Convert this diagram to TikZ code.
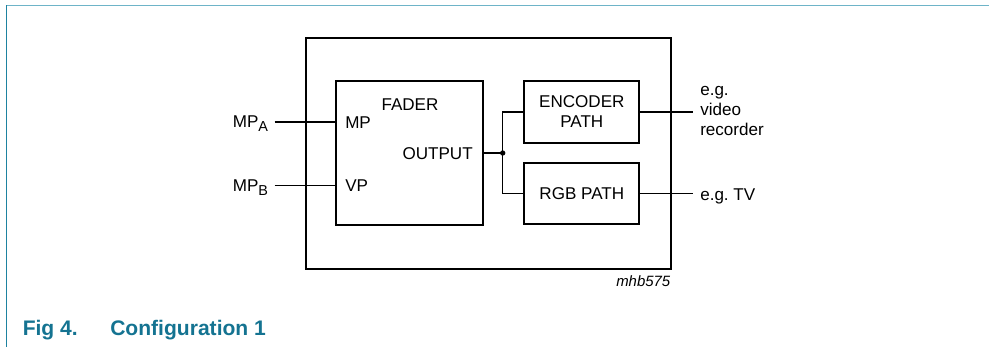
\documentclass[tikz,border=0pt]{standalone}
\usepackage{fontspec}
\setmainfont{Liberation Sans}
\frenchspacing
\definecolor{captionteal}{RGB}{20,115,145}
\definecolor{frameteal}{RGB}{110,180,200}
\definecolor{edgeteal}{RGB}{30,130,160}
\newcommand{\sublbl}[1]{\raisebox{-0.2em}{\fontsize{10.8}{12}\selectfont #1}}

\begin{document}
\begin{tikzpicture}[x=0.75pt, y=-0.75pt,
		block/.style={draw, line width=1.5pt, inner sep=0pt},
		wire/.style={line width=0.8pt},
		lbl/.style={inner sep=0pt, font=\fontsize{12.8}{15}\selectfont},
		capt/.style={inner sep=0pt, anchor=base west, text=captionteal, font=\fontsize{15.8}{18}\bfseries\selectfont}]
			\useasboundingbox (0,0) rectangle (989,347);
			\draw[frameteal, line width=1.1pt] (6.3,5.5) -- (989,5.5);
			\draw[edgeteal, line width=0.9pt] (6.3,5) -- (6.3,347);
			\node[block, minimum width=273.4pt, minimum height=172.9pt] (chip) at (488.75,153.75) {};
			\node[block, minimum width=110pt, minimum height=107.8pt] (fader) at (409.35,153.15) {};
			\node[block, lbl, minimum width=86.25pt, minimum height=46pt, align=center] (encoder) at (581.8,112) {ENCODER\\PATH};
			\node[block, lbl, minimum width=86.25pt, minimum height=46pt] (rgb) at (581.8,193.8) {RGB PATH};
			\node[lbl, anchor=base] (fadername) at (410,110) {FADER};
			\node[lbl, anchor=base west] (mpin) at (345,128.3) {MP};
			\node[lbl, anchor=base west] (vpin) at (345,191.7) {VP};
			\node[lbl, anchor=base east] (outlbl) at (473,159.7) {OUTPUT};
			\node[lbl, anchor=base east] (mpa) at (268.3,127.7) {MP\sublbl{A}};
			\node[lbl, anchor=base east] (mpb) at (268.3,191.7) {MP\sublbl{B}};
			\coordinate (mpastart) at (274.5,122);
			\coordinate (mpbstart) at (274.5,185.3);
			\draw[wire] (mpastart) -- (mpastart -| fader.west);
			\draw[wire] (mpbstart) -- (mpbstart -| fader.west);
			\coordinate (split) at (502.7,153);
			\draw[wire] (fader.east |- split) -- (split);
			\draw[wire] (split) |- (encoder.west);
			\draw[wire] (split) |- (rgb.west);
			\fill (split) circle[radius=2pt];
			\coordinate (vcrend) at (693.3,111);
			\coordinate (tvend) at (693.3,194);
			\draw[wire] (encoder.east) -- (encoder.east -| vcrend);
			\draw[wire] (rgb.east) -- (rgb.east -| tvend);
			\node[lbl, anchor=west, align=left] (vcr) at (700,111.4) {e.g.\\video\\recorder};
			\node[lbl, anchor=base west] (tv) at (700,200.5) {e.g. TV};
			\node[inner sep=0pt, anchor=base east, font=\fontsize{11.2}{13}\itshape\selectfont] (figid) at (670.5,286) {mhb575};
			\node[capt] (figno) at (22.5,335.7) {Fig 4.};
			\node[capt] (figtitle) at (110,335.7) {Configuration 1};
		\end{tikzpicture}
\end{document}
